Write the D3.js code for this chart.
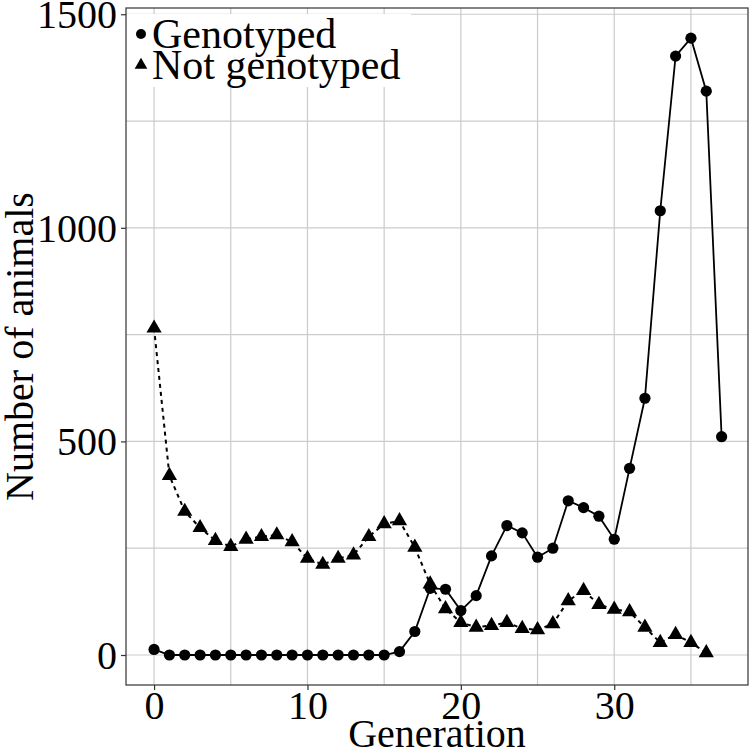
<!DOCTYPE html>
<html>
<head>
<meta charset="utf-8">
<script src="https://cdn.jsdelivr.net/npm/d3@7"></script>
<style>
  body { margin: 0; background: #fff; }
</style>
</head>
<body>
<svg id="chart" width="750" height="755"></svg>
<script>
// generations 0..37
var generations = d3.range(0, 38);
var genotyped = [13, 0, 0, 0, 0, 0, 0, 0, 0, 0, 0, 0, 0, 0, 0, 0, 8, 55, 156, 154,
    104, 139, 232, 303, 286, 229, 250, 361, 345, 325, 271, 437, 601, 1040, 1402, 1444, 1320, 511];
var notGenotyped = [765, 420, 336, 298, 268, 254, 271, 277, 281, 265, 226, 212, 226, 234, 277, 307, 314, 252, 166, 108,
    76, 65, 69, 76, 62, 59, 73, 127, 151, 118, 107, 101, 65, 29, 48, 29, 5];
var xTicks = [0, 10, 20, 30];
var yTicks = [0, 500, 1000, 1500];
var xMinor = [5, 15, 25, 35];
var yMinor = [250, 750, 1250];

var FONT = 40;
var LEGEND_FONT = 42;
var SERIF = "'Liberation Serif', 'Times New Roman', Tinos, 'DejaVu Serif', serif";
var panel = { left: 126, right: 748, top: 8, bottom: 685 };

var svg = d3.select("#chart");

var x = d3.scaleLinear().domain([-1.83, 38.72]).range([panel.left, panel.right]);
var y = d3.scaleLinear().domain([-70.2, 1514.6]).range([panel.bottom, panel.top]);

function label(sel, size) {
    return sel.attr("font-family", SERIF)
        .style("font-family", SERIF)
        .style("font-size", (size || FONT) + "px")
        .attr("fill", "#000");
}

// grid
var grid = svg.append("g");
grid.selectAll(".vx")
    .data(xTicks.concat(xMinor))
    .enter().append("line")
    .attr("x1", d => x(d)).attr("x2", d => x(d))
    .attr("y1", panel.top).attr("y2", panel.bottom)
    .attr("stroke", "#cbcbcb").attr("stroke-width", 1.2);
grid.selectAll(".hy")
    .data(yTicks.concat(yMinor))
    .enter().append("line")
    .attr("x1", panel.left).attr("x2", panel.right)
    .attr("y1", d => y(d)).attr("y2", d => y(d))
    .attr("stroke", "#cbcbcb").attr("stroke-width", 1.2);

// lines
var notData = notGenotyped.map((v, i) => [generations[i], v]);
var genData = genotyped.map((v, i) => [generations[i], v]);
var line = d3.line().x(d => x(d[0])).y(d => y(d[1]));

svg.append("path")
    .datum(notData)
    .attr("d", line)
    .attr("fill", "none")
    .attr("stroke", "#000")
    .attr("stroke-width", 2)
    .attr("stroke-dasharray", "4,4");

svg.append("path")
    .datum(genData)
    .attr("d", line)
    .attr("fill", "none")
    .attr("stroke", "#000")
    .attr("stroke-width", 1.8);

var tri = d3.symbol().type(d3.symbolTriangle).size(100);
svg.selectAll(".tri")
    .data(notData)
    .enter().append("path")
    .attr("d", tri)
    .attr("transform", d => "translate(" + x(d[0]) + "," + y(d[1]) + ")")
    .attr("fill", "#000");

svg.selectAll(".dot")
    .data(genData)
    .enter().append("circle")
    .attr("cx", d => x(d[0]))
    .attr("cy", d => y(d[1]))
    .attr("r", 5.6)
    .attr("fill", "#000");

// legend box (covers the grid)
svg.append("rect")
    .attr("x", panel.left + 1).attr("y", 14)
    .attr("width", 284).attr("height", 73)
    .attr("fill", "#fff");

var legend = svg.append("g");
legend.append("circle").attr("cx", 141).attr("cy", 34).attr("r", 5).attr("fill", "#000");
legend.append("path")
    .attr("d", d3.symbol().type(d3.symbolTriangle).size(70))
    .attr("transform", "translate(141,65)")
    .attr("fill", "#000");
label(legend.append("text").attr("x", 152).attr("y", 48).text("Genotyped"), LEGEND_FONT);
label(legend.append("text").attr("x", 152).attr("y", 79).text("Not genotyped"), LEGEND_FONT);

// panel border
svg.append("rect")
    .attr("x", panel.left).attr("y", panel.top)
    .attr("width", panel.right - panel.left).attr("height", panel.bottom - panel.top)
    .attr("fill", "none").attr("stroke", "#333").attr("stroke-width", 1.2);

// axes
var xAxis = svg.append("g")
    .attr("transform", "translate(0," + panel.bottom + ")")
    .call(d3.axisBottom(x).tickValues(xTicks).tickFormat(d3.format("d")).tickSize(5).tickPadding(3));
var yAxis = svg.append("g")
    .attr("transform", "translate(" + panel.left + ",0)")
    .call(d3.axisLeft(y).tickValues(yTicks).tickFormat(d3.format("d")).tickSize(5).tickPadding(4));

[xAxis, yAxis].forEach(function(a) {
    a.attr("font-family", SERIF).attr("font-size", FONT);
    a.select(".domain").remove();
    a.selectAll(".tick line").attr("stroke", "#333").attr("stroke-width", 1.2);
    label(a.selectAll(".tick text"));
});
xAxis.selectAll(".tick text").attr("dy", "0.66em");
yAxis.selectAll(".tick text").attr("dy", "0.33em");

// axis titles
label(svg.append("text")
    .attr("x", (panel.left + panel.right) / 2)
    .attr("y", 747)
    .attr("text-anchor", "middle")
    .text("Generation"));

label(svg.append("text")
    .attr("transform", "translate(33," + ((panel.top + panel.bottom) / 2) + ") rotate(-90)")
    .attr("text-anchor", "middle")
    .text("Number of animals"));
</script>
</body>
</html>
